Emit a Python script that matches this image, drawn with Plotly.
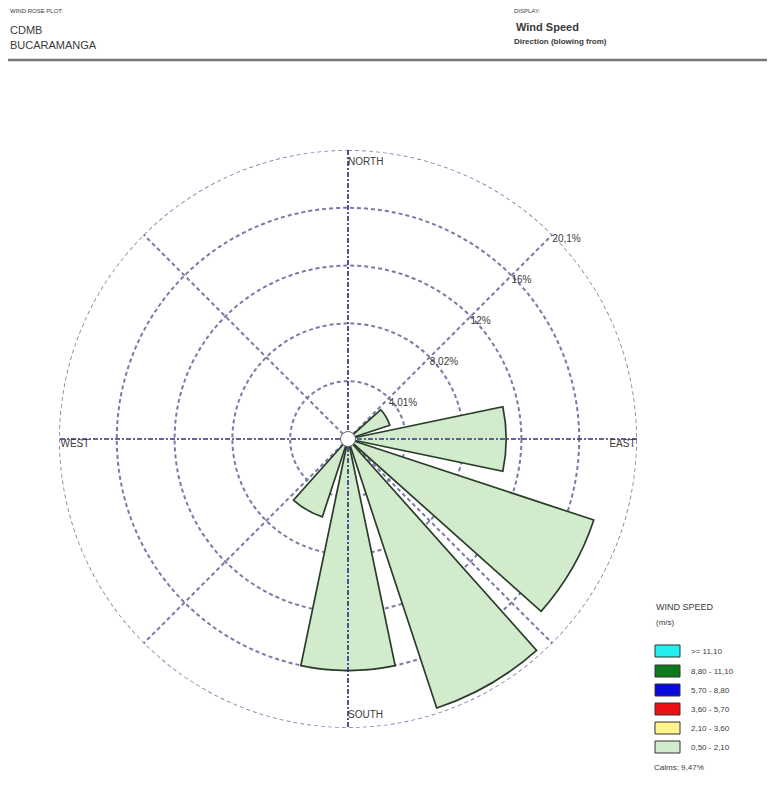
import plotly.graph_objects as go

# ---- data ----
directions = [0, 30, 60, 90, 120, 150, 180, 210, 240, 270, 300, 330]
freq_050_210 = [0.0, 0.0, 3.06, 11.0, 18.0, 19.7, 16.1, 5.7, 0.4, 0.0, 0.0, 0.0]
speed_bins = [">= 11,10", "8,80 - 11,10", "5,70 - 8,80", "3,60 - 5,70", "2,10 - 3,60", "0,50 - 2,10"]
bin_colors = ["#22f0f0", "#0a7a1a", "#0a0ae0", "#ee1111", "#fff58a", "#d3ebcd"]
ring_vals = [4.02, 8.04, 12.06, 16.08, 20.1]
ring_text = ["4,01%", "8,02%", "12%", "16%", "20,1%"]
compass_theta = [0, 90, 180, 270]
compass_text = ["NORTH", "EAST", "SOUTH", "WEST"]
calms = "Calms: 9,47%"

OFF = 8  # page body margin
W, H = 775 - OFF, 787 - OFF
FONT = "Liberation Sans"
GRID = "#7a7aa8"
AXIS = "#34347e"
TXT = "#3a3a3a"


def fx(x):
    return (x - OFF) / W


def fy(y):
    return 1 - (y - OFF) / H


fig = go.Figure()

fig.add_trace(go.Barpolar(
    r=freq_050_210, theta=directions, width=[23.5] * len(directions),
    marker=dict(color=bin_colors[-1], line=dict(color="#2a3d2a", width=1.7)),
    showlegend=False, hoverinfo="skip"))

# outer dashed ring
fig.add_trace(go.Scatterpolar(
    r=[ring_vals[-1]] * 361, theta=list(range(361)), mode="lines", cliponaxis=False,
    line=dict(color=GRID, width=1.7, dash="4px,3px"), showlegend=False, hoverinfo="skip"))

# main N-S / E-W axes, darker dash-dot
for th in [0, 90]:
    fig.add_trace(go.Scatterpolar(
        r=[ring_vals[-1], ring_vals[-1]], theta=[th, th + 180], mode="lines",
        line=dict(color=AXIS, width=1.7, dash="5px,2px,2px,2px"),
        showlegend=False, hoverinfo="skip"))

# ring labels
fig.add_trace(go.Scatterpolar(
    r=ring_vals, theta=[45] * len(ring_vals), mode="text", text=ring_text,
    textposition="bottom right", textfont=dict(family=FONT, size=10, color=TXT),
    showlegend=False, hoverinfo="skip"))

# compass labels inside ring
pos = ["bottom right", "bottom left", "top right", "bottom right"]
rr = [19.6, 20.0, 19.6, 20.0]
fig.add_trace(go.Scatterpolar(
    r=rr, theta=compass_theta, mode="text", text=compass_text,
    textposition=pos, textfont=dict(family=FONT, size=10, color=TXT),
    showlegend=False, hoverinfo="skip"))

# center calm circle
fig.add_trace(go.Scatterpolar(
    r=[0], theta=[0], mode="markers",
    marker=dict(size=15, color="white", line=dict(color="#666", width=1)),
    showlegend=False, hoverinfo="skip"))

dom_x = [fx(59), fx(637)]
dom_y = [fy(728), fy(150)]

fig.update_layout(
    width=W, height=H, margin=dict(l=0, r=0, t=0, b=0),
    paper_bgcolor="white", plot_bgcolor="white",
    font=dict(family=FONT, color=TXT),
    polar=dict(
        domain=dict(x=dom_x, y=dom_y),
        bgcolor="white",
        bargap=0,
        radialaxis=dict(range=[0, 20.1], tickvals=ring_vals,
                        showticklabels=False, showline=False, ticks="",
                        gridcolor=GRID, griddash="4px,3px", gridwidth=1.7),
        angularaxis=dict(rotation=90, direction="clockwise",
                         tickvals=[45, 135, 225, 315],
                         showticklabels=False, ticks="", showline=False,
                         gridcolor=GRID, griddash="4px,3px", gridwidth=1.7),
    ),
)

shapes = [
    dict(type="line", xref="paper", yref="paper", x0=0, x1=1, y0=fy(3), y1=fy(3),
         line=dict(color="#8a8a8a", width=1.5)),
    dict(type="line", xref="paper", yref="paper", x0=0, x1=1, y0=fy(60), y1=fy(60),
         line=dict(color="#777", width=2.5)),
]
ann = []


def px_ann(x, y, text, size, bold=False, color=TXT):
    t = f"<b>{text}</b>" if bold else text
    ann.append(dict(xref="paper", yref="paper", x=fx(x), y=fy(y), text=t,
                    showarrow=False, xanchor="left", yanchor="middle",
                    font=dict(family=FONT, size=size, color=color)))


px_ann(8, 11, "WIND ROSE PLOT:", 6)
px_ann(8, 30, "CDMB", 11)
px_ann(8, 45, "BUCARAMANGA", 11)
px_ann(512, 11, "DISPLAY:", 6)
px_ann(514, 27, "Wind Speed", 11, bold=True)
px_ann(512, 42, "Direction (blowing from)", 8, bold=True)

# legend
px_ann(654, 607, "WIND SPEED", 9)
px_ann(654, 622, "(m/s)", 8)
row_y = [651, 671, 690, 709, 728, 747]
for i, (lab, col) in enumerate(zip(speed_bins, bin_colors)):
    y = row_y[i]
    shapes.append(dict(type="rect", xref="paper", yref="paper",
                       x0=fx(655), x1=fx(680), y0=fy(y + 6), y1=fy(y - 6),
                       fillcolor=col, line=dict(color="#333", width=1)))
    px_ann(689, y, lab, 8)
px_ann(652, 767, calms, 8)

fig.update_layout(shapes=shapes, annotations=ann)
fig.write_html("out.html")
